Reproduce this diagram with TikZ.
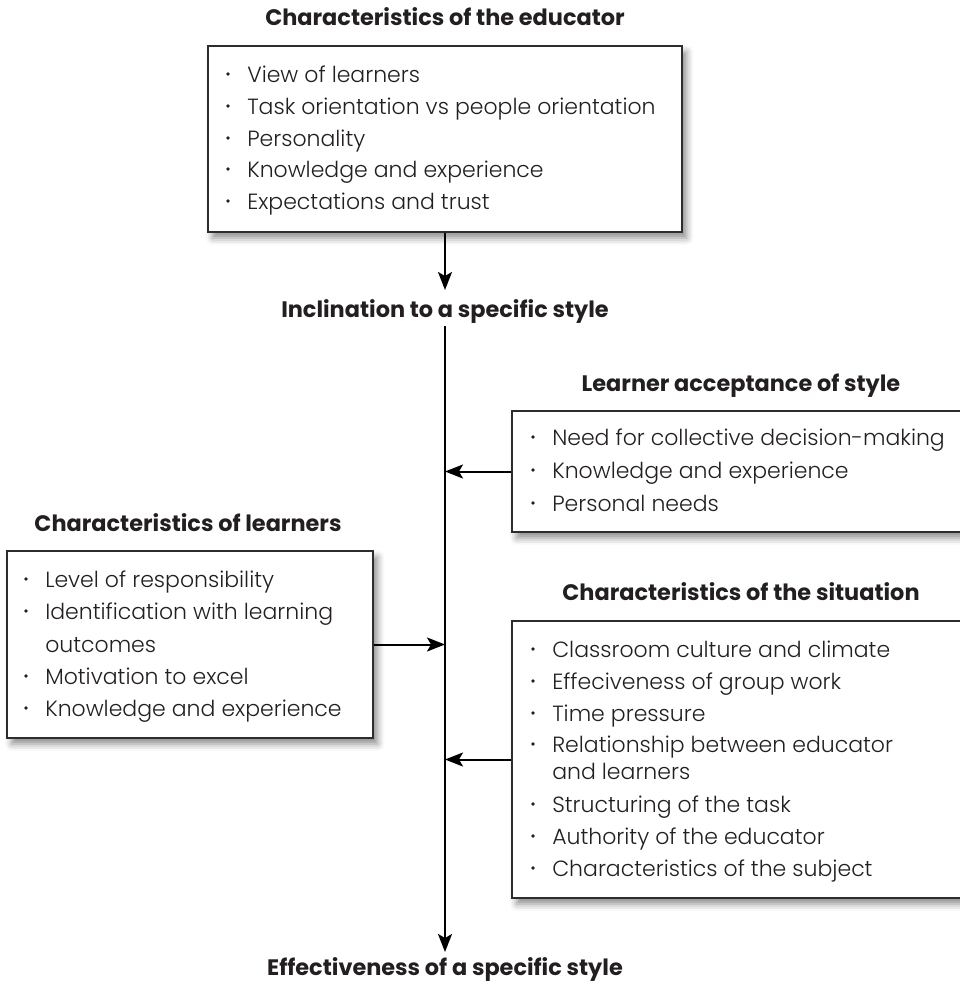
\documentclass[tikz,border=0pt]{standalone}
\usepackage{fontspec}
\setmainfont{Poppins}
\newfontfamily\itemfont{Poppins}[UprightFont=*-Light]
\usetikzlibrary{arrows.meta,shadows.blur,fit,calc}

\definecolor{textc}{RGB}{35,31,32}
\definecolor{boxc}{RGB}{45,45,45}

% one bulleted line: name, x of text, baseline y, text
\newcommand{\listline}[4]{%
  \node[itm] (#1) at (#2,#3) {#4};
  \fill[textc] (#2-19,#3-8) circle (1.4pt);}
% continuation line of a wrapped item
\newcommand{\contline}[4]{%
  \node[itm] (#1) at (#2,#3) {#4};}

\begin{document}
\begin{tikzpicture}[x=0.75pt,y=-0.75pt,
  box/.style={draw=boxc, line width=1.1pt, fill=white, inner sep=0pt,
    blur shadow={shadow xshift=3.5pt, shadow yshift=-4.5pt,
      shadow blur radius=5pt, shadow opacity=45}},
  ttl/.style={font=\fontsize{16.8}{20}\selectfont\bfseries, text=textc,
    inner sep=0pt, anchor=base},
  itm/.style={font=\itemfont\fontsize{16.5}{20}\selectfont, text=textc,
    inner sep=0pt, anchor=base west},
  arr/.style={draw=black, line width=1.5pt,
    -{Stealth[length=13.5pt, width=10.5pt, inset=3pt]}},
]
\useasboundingbox (0,0) rectangle (960,985);
\clip (0,0) rectangle (960,985);

% ---------- boxes ----------
\node[box, fit={(208,46) (682,232)}] (edu) {};
\node[box, fit={(512,411) (970,532)}] (acc) {};
\node[box, fit={(7,551) (373,738)}] (lrn) {};
\node[box, fit={(512,621) (970,898)}] (sit) {};

% ---------- headings ----------
\node[ttl] (eduT) at (445,26) {Characteristics of the educator};
\node[ttl] (inc)  at (445,317) {Inclination to a specific style};
\node[ttl] (accT) at (741,391) {Learner acceptance of style};
\node[ttl] (lrnT) at (188,531) {Characteristics of learners};
\node[ttl] (sitT) at (741,600) {Characteristics of the situation};
\node[ttl] (eff)  at (445,975) {Effectiveness of a specific style};

% ---------- educator ----------
\listline{e1}{247}{82}{View of learners}
\listline{e2}{247}{114}{Task orientation vs people orientation}
\listline{e3}{247}{146}{Personality}
\listline{e4}{247}{177}{Knowledge and experience}
\listline{e5}{247}{209}{Expectations and trust}

% ---------- learner acceptance ----------
\listline{a1}{552}{445}{Need for collective decision-making}
\listline{a2}{552}{478}{Knowledge and experience}
\listline{a3}{552}{511}{Personal needs}

% ---------- learners ----------
\listline{l1}{45}{587}{Level of responsibility}
\listline{l2}{45}{619}{Identification with learning}
\contline{l2b}{45}{652}{outcomes}
\listline{l3}{45}{684}{Motivation to excel}
\listline{l4}{45}{716}{Knowledge and experience}

% ---------- situation ----------
\listline{s1}{552}{657}{Classroom culture and climate}
\listline{s2}{552}{689}{Effeciveness of group work}
\listline{s3}{552}{721}{Time pressure}
\listline{s4}{552}{752}{Relationship between educator}
\contline{s4b}{552}{779}{and learners}
\listline{s5}{552}{812}{Structuring of the task}
\listline{s6}{552}{844}{Authority of the educator}
\listline{s7}{552}{876}{Characteristics of the subject}

% ---------- connectors ----------
\coordinate (incTip) at ($(inc.base)+(0,-27)$);
\coordinate (trunkTop) at ($(inc.base)+(0,9)$);
\coordinate (trunkEnd) at ($(eff.base)+(0,-23)$);

\draw[arr] (edu.south) -- (incTip);
\draw[arr] (trunkTop) -- (trunkEnd);
\draw[arr] (acc.west) -- (trunkTop |- acc.west);
\draw[arr] (lrn.east) -- (trunkTop |- lrn.east);
\draw[arr] (sit.west) -- (trunkTop |- sit.west);
\end{tikzpicture}
\end{document}
